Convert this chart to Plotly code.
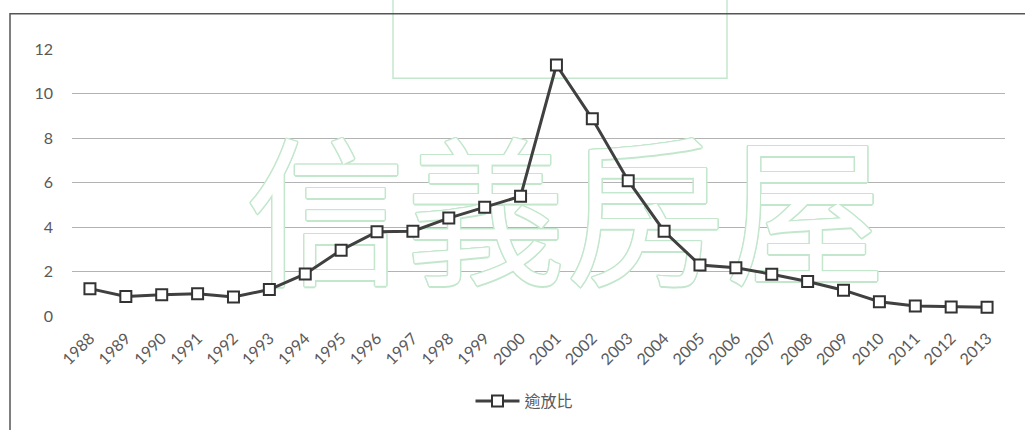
import plotly.graph_objects as go

# 逾放比 (non-performing loan ratio, %) by year
years = [1988, 1989, 1990, 1991, 1992, 1993, 1994, 1995, 1996, 1997, 1998, 1999, 2000,
         2001, 2002, 2003, 2004, 2005, 2006, 2007, 2008, 2009, 2010, 2011, 2012, 2013]
npl_ratio = [1.23, 0.88, 0.96, 1.00, 0.85, 1.19, 1.89, 2.96, 3.79, 3.81, 4.40, 4.89, 5.38,
             11.28, 8.86, 6.08, 3.81, 2.29, 2.17, 1.88, 1.55, 1.16, 0.64, 0.45, 0.41, 0.39]
year_labels = [str(y) for y in years]
y_ticks = [0, 2, 4, 6, 8, 10, 12]
series_name = "逾放比"
watermark = "信義房屋"

W, H = 1025, 430
ML, MR, MT, MB = 72, 20, 49, 108
PW, PH = W - ML - MR, H - MT - MB


def px(x):
    return (x - ML) / PW


def py(y):
    return (H - MB - y) / PH


green = "#c3e7cd"
outline = ", ".join(f"{dx}px {dy}px 0 {green}" for dx, dy in
                    [(1, 0), (-1, 0), (0, 1), (0, -1), (1, 1), (-1, -1), (1, -1), (-1, 1),
                     (1.5, 0), (-1.5, 0), (0, 1.5), (0, -1.5)])

fig = go.Figure()

# outlined watermark, drawn beneath the data line
fig.add_trace(go.Scatter(
    x=[2001.25], y=[3.72], mode="text", text=[watermark], showlegend=False,
    hoverinfo="skip",
    textfont=dict(family="Noto Sans CJK TC", size=160, color="white", shadow=outline),
))

fig.add_trace(go.Scatter(
    x=years, y=npl_ratio, name=series_name, mode="lines+markers",
    line=dict(color="#404040", width=3),
    marker=dict(symbol="square", size=11, color="white",
                line=dict(color="#333333", width=2)),
))

shapes = [
    # logo frame at the top
    dict(type="rect", xref="paper", yref="paper",
         x0=px(393), x1=px(727), y0=py(79), y1=py(-20),
         line=dict(color=green, width=1.5), fillcolor="rgba(0,0,0,0)", layer="below"),
    # chart area border
    dict(type="rect", xref="paper", yref="paper",
         x0=px(10), x1=px(1040), y0=py(445), y1=py(13),
         line=dict(color="#555555", width=1.5), fillcolor="rgba(0,0,0,0)"),
]

fig.update_layout(
    width=W, height=H,
    margin=dict(l=ML, r=MR, t=MT, b=MB),
    paper_bgcolor="white", plot_bgcolor="white",
    font=dict(family="Lato, Noto Sans CJK TC", size=15, color="#595959"),
    shapes=shapes,
    showlegend=True,
    legend=dict(orientation="h", x=0.485, xanchor="center", y=py(409), yanchor="middle",
                font=dict(family="Noto Sans CJK TC", size=16, color="#595959"),
                itemwidth=44, bgcolor="rgba(0,0,0,0)"),
    xaxis=dict(range=[1987.5, 2013.5], tickmode="array", tickvals=years,
               ticktext=year_labels, tickangle=-45, showgrid=False, zeroline=False,
               showline=False, ticks="", ticklabelstandoff=9,
               tickfont=dict(size=16, color="#595959")),
    yaxis=dict(range=[0, 12], tickvals=y_ticks, showgrid=True, gridcolor="#b3b3b3",
               gridwidth=1, zeroline=False, showline=False, ticks="",
               ticklabelstandoff=18, tickfont=dict(size=16, color="#595959")),
)

fig.write_html("out.html")
